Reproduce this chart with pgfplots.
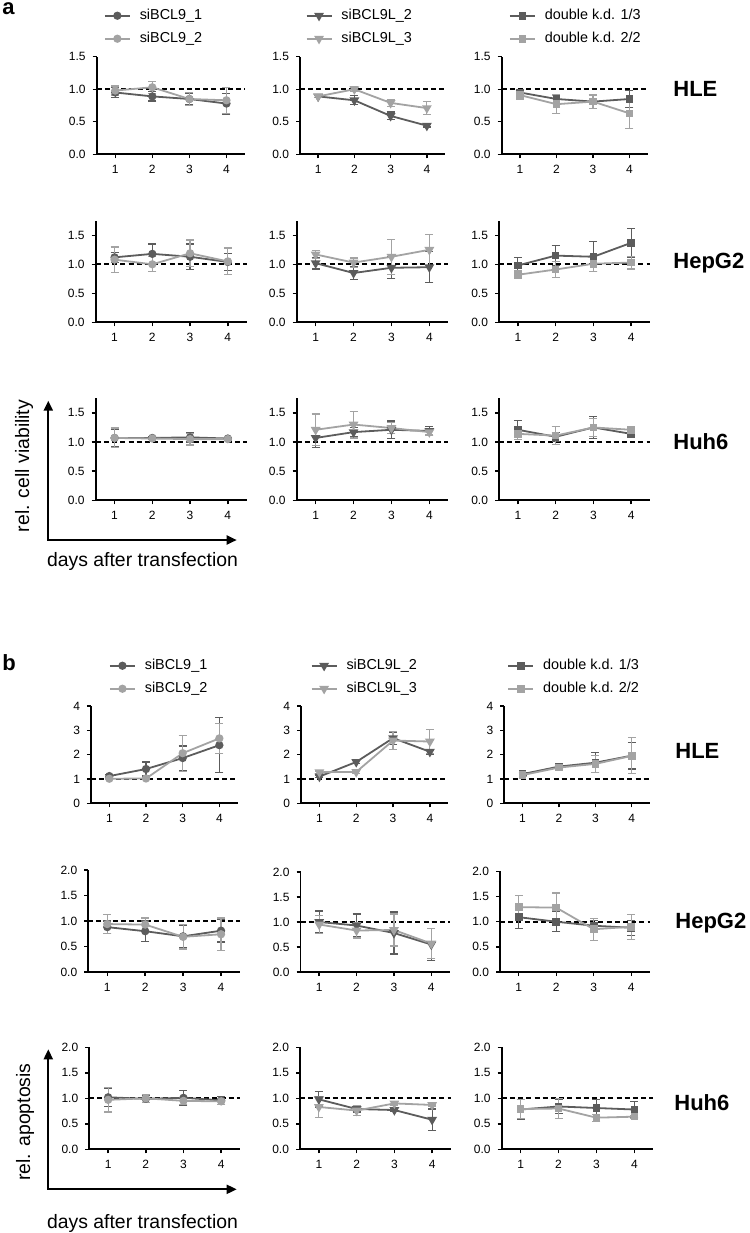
\documentclass[border=0pt]{standalone}
\usepackage{pgfplots}
\pgfplotsset{compat=1.18}
\usepackage{fontspec}
\setmainfont{Liberation Sans}
\usetikzlibrary{arrows.meta}
\definecolor{dkc}{RGB}{92,92,92}
\definecolor{ltc}{RGB}{163,163,163}
\newcommand{\lgf}{\fontsize{7.2}{8.5}\selectfont}
\pgfplotsset{
 panel/.style={scale only axis, anchor=south west,
  axis lines=left, axis line style={-, line width=0.9pt, black},
  xmin=0.5, xmax=4.5, ymin=0, xtick={1,2,3,4},
  tick align=outside, major tick length=2pt,
  tick style={black, line width=0.7pt},
  ticklabel style={font=\fontsize{6}{7}\selectfont},
  /pgf/number format/assume math mode=true,
  clip=false},
 fmtA/.style={ytick={0,0.5,1,1.5}, yticklabel style={/pgf/number format/.cd,fixed,fixed zerofill,precision=1}},
 fmtB/.style={ymax=4, ytick={0,1,2,3,4}},
 fmtC/.style={ymax=2, ytick={0,0.5,1,1.5,2}, yticklabel style={/pgf/number format/.cd,fixed,fixed zerofill,precision=1}},
 ser/.style={line width=0.9pt, mark size=1.6pt,
   error bars/y dir=both, error bars/y explicit,
   error bars/error bar style={line width=0.6pt},
   error bars/error mark options={rotate=90, mark size=2pt, line width=0.6pt}},
 circ/.style={mark=*, mark options={solid}},
 tri/.style={mark=triangle*, mark size=1.95pt, mark options={solid, rotate=180}},
 sq/.style={mark=square*, mark size=1.45pt, mark options={solid}},
 lgd/.style={legend style={draw=none, fill=none, anchor=north west, inner sep=0pt, outer sep=0pt,
   font=\lgf, row sep=3.4pt,
   nodes={font=\lgf, inner sep=0.5pt, text height=5.4pt, text depth=1.7pt},
   /tikz/every odd column/.append style={column sep=4pt}},
   legend cell align=left,
   legend image code/.code={\draw[mark repeat=2,mark phase=2] plot coordinates {(0pt,0pt) (6.25pt,0pt) (12.5pt,0pt)};}},
}
\newcommand{\dashone}{\addplot[black, line width=0.9pt, dash pattern=on 2.5pt off 1.6pt, forget plot] coordinates {(0.5,1) (4.5,1)};}
\begin{document}
\begin{tikzpicture}
\path[use as bounding box] (0,0) rectangle (375pt,-616.5pt);
% ================= a =================
\node[anchor=base west, font=\bfseries\fontsize{11}{13}\selectfont, inner sep=0pt] at (1pt,-7.4pt) {a};
% row 1 HLE
\begin{axis}[panel, fmtA, ymax=1.5, at={(48.35pt,-77.15pt)}, width=74.15pt, height=48.8pt, lgd, legend style={at={(0.049,1.503)}}]
\dashone
\addplot[ser, circ, color=dkc] coordinates {(1,0.95) +- (0,0.08) (2,0.89) +- (0,0.07) (3,0.85) +- (0,0.09) (4,0.78) +- (0,0.16)};
\addlegendentry{siBCL9\_1}
\addplot[ser, circ, color=ltc] coordinates {(1,0.98) +- (0,0.07) (2,1.03) +- (0,0.09) (3,0.85) +- (0,0.10) (4,0.83) +- (0,0.20)};
\addlegendentry{siBCL9\_2}
\end{axis}
\begin{axis}[panel, fmtA, ymax=1.5, at={(150pt,-77.15pt)}, width=72.5pt, height=48.8pt, lgd, legend style={at={(0.039,1.503)}}]
\dashone
\addplot[ser, tri, color=dkc] coordinates {(1,0.89) +- (0,0.02) (2,0.83) +- (0,0.07) (3,0.59) +- (0,0.06) (4,0.44) +- (0,0.02)};
\addlegendentry{siBCL9L\_2}
\addplot[ser, tri, color=ltc] coordinates {(1,0.89) +- (0,0.02) (2,1.00) +- (0,0.04) (3,0.79) +- (0,0.05) (4,0.71) +- (0,0.10)};
\addlegendentry{siBCL9L\_3}
\end{axis}
\begin{axis}[panel, fmtA, ymax=1.5, at={(250.85pt,-77.15pt)}, width=73pt, height=48.8pt, lgd, legend style={at={(0.05,1.503)}}]
\dashone
\addplot[ser, sq, color=dkc] coordinates {(1,0.95) +- (0,0.04) (2,0.85) +- (0,0.07) (3,0.81) +- (0,0.10) (4,0.85) +- (0,0.13)};
\addlegendentry{double k.d. 1/3}
\addplot[ser, sq, color=ltc] coordinates {(1,0.91) +- (0,0.07) (2,0.77) +- (0,0.14) (3,0.81) +- (0,0.10) (4,0.63) +- (0,0.23)};
\addlegendentry{double k.d. 2/2}
\end{axis}
% row 2 HepG2
\begin{axis}[panel, fmtA, ymax=1.75, at={(47.85pt,-161.15pt)}, width=75.5pt, height=50.75pt]
\dashone
\addplot[ser, circ, color=dkc] coordinates {(1,1.12) +- (0,0.09) (2,1.18) +- (0,0.17) (3,1.13) +- (0,0.22) (4,1.04) +- (0,0.14)};
\addplot[ser, circ, color=ltc] coordinates {(1,1.08) +- (0,0.22) (2,1.00) +- (0,0.13) (3,1.19) +- (0,0.23) (4,1.05) +- (0,0.23)};
\end{axis}
\begin{axis}[panel, fmtA, ymax=1.75, at={(148.35pt,-161.15pt)}, width=75.8pt, height=50.75pt]
\dashone
\addplot[ser, tri, color=dkc] coordinates {(1,1.02) +- (0,0.10) (2,0.85) +- (0,0.11) (3,0.94) +- (0,0.19) (4,0.95) +- (0,0.27)};
\addplot[ser, tri, color=ltc] coordinates {(1,1.17) +- (0,0.07) (2,1.03) +- (0,0.08) (3,1.13) +- (0,0.30) (4,1.25) +- (0,0.27)};
\end{axis}
\begin{axis}[panel, fmtA, ymax=1.75, at={(249.5pt,-161.15pt)}, width=75.5pt, height=50.75pt]
\dashone
\addplot[ser, sq, color=dkc] coordinates {(1,0.98) +- (0,0.14) (2,1.15) +- (0,0.17) (3,1.13) +- (0,0.26) (4,1.37) +- (0,0.25)};
\addplot[ser, sq, color=ltc] coordinates {(1,0.82) +- (0,0.07) (2,0.91) +- (0,0.14) (3,1.01) +- (0,0.14) (4,1.03) +- (0,0.11)};
\end{axis}
% row 3 Huh6
\begin{axis}[panel, fmtA, ymax=1.75, at={(47.85pt,-250.15pt)}, width=75.5pt, height=51pt]
\dashone
\addplot[ser, circ, color=dkc] coordinates {(1,1.07) +- (0,0.15) (2,1.07) +- (0,0.02) (3,1.08) +- (0,0.08) (4,1.06) +- (0,0.02)};
\addplot[ser, circ, color=ltc] coordinates {(1,1.07) +- (0,0.17) (2,1.06) +- (0,0.02) (3,1.05) +- (0,0.10) (4,1.05) +- (0,0.02)};
\end{axis}
\begin{axis}[panel, fmtA, ymax=1.75, at={(148.35pt,-250.15pt)}, width=75.8pt, height=51pt]
\dashone
\addplot[ser, tri, color=dkc] coordinates {(1,1.07) +- (0,0.16) (2,1.17) +- (0,0.08) (3,1.21) +- (0,0.15) (4,1.19) +- (0,0.07)};
\addplot[ser, tri, color=ltc] coordinates {(1,1.21) +- (0,0.27) (2,1.30) +- (0,0.23) (3,1.24) +- (0,0.10) (4,1.17) +- (0,0.05)};
\end{axis}
\begin{axis}[panel, fmtA, ymax=1.75, at={(249.5pt,-250.15pt)}, width=75.5pt, height=51pt]
\dashone
\addplot[ser, sq, color=dkc] coordinates {(1,1.21) +- (0,0.16) (2,1.09) +- (0,0.08) (3,1.25) +- (0,0.19) (4,1.14) +- (0,0.03)};
\addplot[ser, sq, color=ltc] coordinates {(1,1.14) +- (0,0.10) (2,1.11) +- (0,0.15) (3,1.25) +- (0,0.15) (4,1.21) +- (0,0.03)};
\end{axis}
\node[anchor=west, inner sep=0pt, font=\bfseries\fontsize{11}{13}\selectfont] at (336.5pt,-44.5pt) {HLE};
\node[anchor=west, inner sep=0pt, font=\bfseries\fontsize{11}{13}\selectfont] at (336.5pt,-131.5pt) {HepG2};
\node[anchor=west, inner sep=0pt, font=\bfseries\fontsize{11}{13}\selectfont] at (336.5pt,-220.85pt) {Huh6};
\draw[line width=1pt, {Triangle[length=5pt,width=4.5pt]}-{Triangle[length=5pt,width=4.5pt]}] (24.15pt,-200.35pt) -- (24.15pt,-270pt) -- (118.35pt,-270pt);
\node[rotate=90, font=\fontsize{9.7}{11}\selectfont] at (12pt,-233pt) {rel. cell viability};
\node[font=\fontsize{9.7}{11}\selectfont] at (71.25pt,-280.85pt) {days after transfection};
% ================= b =================
\node[anchor=base west, font=\bfseries\fontsize{11}{13}\selectfont, inner sep=0pt] at (1pt,-335pt) {b};
% row 1 HLE
\begin{axis}[panel, fmtB, at={(45.5pt,-401.65pt)}, width=73.35pt, height=48.65pt, lgd, legend style={at={(0.123,1.497)}}]
\dashone
\addplot[ser, circ, color=dkc] coordinates {(1,1.12) +- (0,0.05) (2,1.41) +- (0,0.29) (3,1.86) +- (0,0.50) (4,2.39) +- (0,1.13)};
\addlegendentry{siBCL9\_1}
\addplot[ser, circ, color=ltc] coordinates {(1,1.01) +- (0,0.03) (2,1.02) +- (0,0.03) (3,2.06) +- (0,0.74) (4,2.67) +- (0,0.62)};
\addlegendentry{siBCL9\_2}
\end{axis}
\begin{axis}[panel, fmtB, at={(150.5pt,-401.65pt)}, width=73.65pt, height=48.65pt, lgd, legend style={at={(0.066,1.497)}}]
\dashone
\addplot[ser, tri, color=dkc] coordinates {(1,1.10) +- (0,0.05) (2,1.70) +- (0,0.05) (3,2.68) +- (0,0.25) (4,2.12) +- (0,0.10)};
\addlegendentry{siBCL9L\_2}
\addplot[ser, tri, color=ltc] coordinates {(1,1.28) +- (0,0.05) (2,1.29) +- (0,0.05) (3,2.58) +- (0,0.38) (4,2.54) +- (0,0.50)};
\addlegendentry{siBCL9L\_3}
\end{axis}
\begin{axis}[panel, fmtB, at={(252.15pt,-401.65pt)}, width=72.85pt, height=48.65pt, lgd, legend style={at={(0.021,1.497)}}]
\dashone
\addplot[ser, sq, color=dkc] coordinates {(1,1.20) +- (0,0.06) (2,1.51) +- (0,0.06) (3,1.67) +- (0,0.41) (4,1.96) +- (0,0.55)};
\addlegendentry{double k.d. 1/3}
\addplot[ser, sq, color=ltc] coordinates {(1,1.16) +- (0,0.06) (2,1.47) +- (0,0.06) (3,1.62) +- (0,0.35) (4,1.95) +- (0,0.74)};
\addlegendentry{double k.d. 2/2}
\end{axis}
% row 2 HepG2
\begin{axis}[panel, fmtC, at={(44.15pt,-486pt)}, width=75.85pt, height=51pt]
\dashone
\addplot[ser, circ, color=dkc] coordinates {(1,0.88) +- (0,0.12) (2,0.80) +- (0,0.20) (3,0.70) +- (0,0.22) (4,0.81) +- (0,0.22)};
\addplot[ser, circ, color=ltc] coordinates {(1,0.94) +- (0,0.18) (2,0.93) +- (0,0.13) (3,0.69) +- (0,0.24) (4,0.74) +- (0,0.32)};
\end{axis}
\begin{axis}[panel, fmtC, at={(150.25pt,-486pt)}, width=74.75pt, height=50pt]
\dashone
\addplot[ser, tri, color=dkc] coordinates {(1,1.00) +- (0,0.22) (2,0.93) +- (0,0.23) (3,0.78) +- (0,0.42) (4,0.55) +- (0,0.32)};
\addplot[ser, tri, color=ltc] coordinates {(1,0.95) +- (0,0.18) (2,0.83) +- (0,0.15) (3,0.84) +- (0,0.32) (4,0.57) +- (0,0.30)};
\end{axis}
\begin{axis}[panel, fmtC, at={(250pt,-486pt)}, width=75pt, height=50.3pt]
\dashone
\addplot[ser, sq, color=dkc] coordinates {(1,1.09) +- (0,0.22) (2,1.00) +- (0,0.20) (3,0.92) +- (0,0.10) (4,0.88) +- (0,0.15)};
\addplot[ser, sq, color=ltc] coordinates {(1,1.29) +- (0,0.23) (2,1.28) +- (0,0.29) (3,0.85) +- (0,0.22) (4,0.90) +- (0,0.25)};
\end{axis}
% row 3 Huh6
\begin{axis}[panel, fmtC, at={(44.65pt,-574.65pt)}, width=75.35pt, height=51pt]
\dashone
\addplot[ser, circ, color=dkc] coordinates {(1,1.02) +- (0,0.18) (2,0.99) +- (0,0.07) (3,1.01) +- (0,0.15) (4,0.96) +- (0,0.08)};
\addplot[ser, circ, color=ltc] coordinates {(1,0.97) +- (0,0.24) (2,1.00) +- (0,0.08) (3,0.95) +- (0,0.07) (4,0.94) +- (0,0.06)};
\end{axis}
\begin{axis}[panel, fmtC, at={(150pt,-574.65pt)}, width=75.5pt, height=51pt]
\dashone
\addplot[ser, tri, color=dkc] coordinates {(1,0.98) +- (0,0.15) (2,0.79) +- (0,0.06) (3,0.77) +- (0,0.02) (4,0.58) +- (0,0.21)};
\addplot[ser, tri, color=ltc] coordinates {(1,0.83) +- (0,0.20) (2,0.76) +- (0,0.10) (3,0.90) +- (0,0.03) (4,0.87) +- (0,0.02)};
\end{axis}
\begin{axis}[panel, fmtC, at={(250.85pt,-574.65pt)}, width=75.8pt, height=51pt]
\dashone
\addplot[ser, sq, color=dkc] coordinates {(1,0.78) +- (0,0.19) (2,0.84) +- (0,0.14) (3,0.81) +- (0,0.16) (4,0.78) +- (0,0.15)};
\addplot[ser, sq, color=ltc] coordinates {(1,0.79) +- (0,0.19) (2,0.80) +- (0,0.20) (3,0.62) +- (0,0.07) (4,0.64) +- (0,0.03)};
\end{axis}
\node[anchor=west, inner sep=0pt, font=\bfseries\fontsize{11}{13}\selectfont] at (337.5pt,-375.35pt) {HLE};
\node[anchor=west, inner sep=0pt, font=\bfseries\fontsize{11}{13}\selectfont] at (337.5pt,-461.5pt) {HepG2};
\node[anchor=west, inner sep=0pt, font=\bfseries\fontsize{11}{13}\selectfont] at (337pt,-551.5pt) {Huh6};
\draw[line width=1pt, {Triangle[length=5pt,width=4.5pt]}-{Triangle[length=5pt,width=4.5pt]}] (24.15pt,-524.65pt) -- (24.15pt,-594.65pt) -- (118.35pt,-594.65pt);
\node[rotate=90, font=\fontsize{9.7}{11}\selectfont] at (12.5pt,-561pt) {rel. apoptosis};
\node[font=\fontsize{9.7}{11}\selectfont] at (71.25pt,-611.5pt) {days after transfection};
\end{tikzpicture}
\end{document}
